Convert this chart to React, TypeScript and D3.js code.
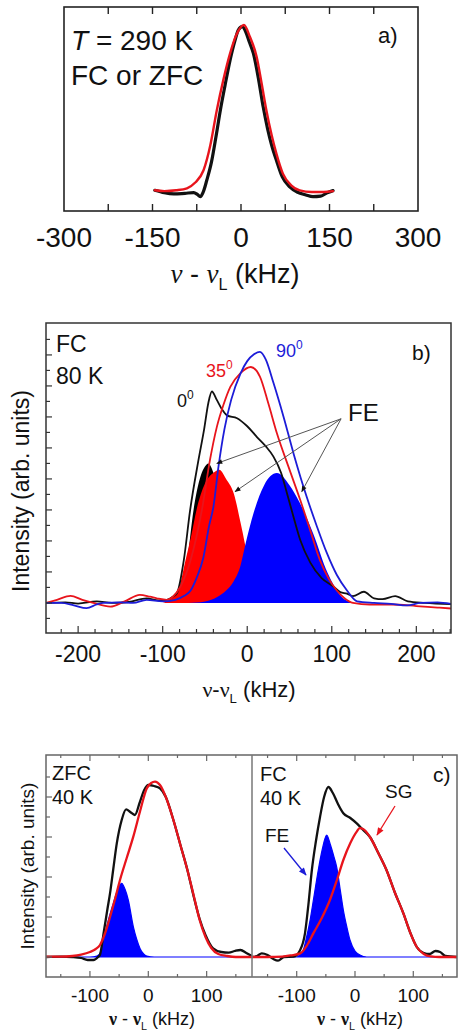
import React from "react";
import * as d3 from "d3";

type Pt = [number, number];

// ---------- Panel a data (kHz, intensity 0..100) ----------
const aTickLabels = [-300, -150, 0, 150, 300];
const aTickMarks = [-225, -150, -75, 0, 75, 150, 225];
const aBlack: Pt[] = [
  [-146, 1.0], [-130, -0.5], [-114, -1.2], [-95, -0.8], [-80, -0.4], [-74, -1.5], [-69, -2.8], [-64, 0],
  [-58, 7], [-50, 18], [-42, 34], [-35, 49], [-27, 64], [-18.5, 79], [-10, 91], [-4.5, 97], [2, 99],
  [8, 96], [14, 90], [21, 83], [30, 67], [37.6, 51], [45, 38], [52, 28], [60, 19], [70, 9], [82.6, 3],
  [95, 0], [110, -1.8], [122, -2.8], [135, -2.5], [146, -0.5], [156, 0.8],
];
const aRed: Pt[] = [
  [-146, 1.0], [-130, 0.5], [-110, 1.0], [-91.6, 2.2], [-78, 5.5], [-63.5, 13], [-52, 28], [-41, 49],
  [-30, 67], [-18.5, 83], [-8, 94], [5, 100], [15, 93], [26.5, 81], [35, 65], [43, 49], [52, 34],
  [60, 23], [71, 11], [85, 4], [99.5, 1], [120, 0], [140, 0], [156, 0.5],
];

// ---------- Panel b data ----------
const bTickLabels = [-200, -100, 0, 100, 200];
const bTickMarks = [-220, -200, -180, -160, -140, -120, -100, -80, -60, -40, -20, 0, 20, 40, 60, 80, 100, 120, 140, 160, 180, 200, 220, 240];
const bYTicks = [-0.5, 0, 0.5, 1, 1.5, 2, 2.5, 3, 3.5, 4, 4.5, 5, 5.5, 6, 6.5, 7, 7.5, 8, 8.5];
const bBlack: Pt[] = [
  [-238, 0.0], [-215, 0.02], [-200, -0.02], [-178, 0.05], [-160, 0.0], [-140, 0.03], [-119, 0.15],
  [-105, 0.08], [-95, 0.1], [-88, 0.2], [-83, 0.32], [-75, 1.38], [-67.5, 3.0], [-57.6, 4.62],
  [-51, 5.6], [-46, 6.45], [-41.8, 6.82], [-36, 6.55], [-30, 6.25], [-24, 6.05], [-12, 5.96],
  [0, 5.7], [11.5, 5.35], [22, 5.05], [31, 4.72], [40, 4.2], [47, 3.54], [55, 2.75], [62.7, 2.03],
  [74.6, 1.3], [88, 0.8], [102, 0.53], [110, 0.35], [118, 0.3], [125, 0.22], [138, 0.36], [150, 0.15],
  [160, 0.12], [175, 0.22], [190, 0.05], [210, 0.0], [241, -0.04],
];
const bRed: Pt[] = [
  [-238, 0.0], [-225, 0.1], [-209, 0.23], [-195, 0.1], [-182, 0.0], [-162, -0.12], [-145, 0.05],
  [-127, 0.26], [-115, 0.2], [-107, 0.15], [-95, 0.1], [-88, 0.2], [-79, 0.53], [-67, 1.38],
  [-53.6, 3.0], [-44, 4.62], [-36, 5.67], [-28, 6.4], [-20, 6.97], [-8, 7.41], [4.3, 7.61],
  [15, 7.3], [25, 6.43], [35, 5.48], [50, 4.3], [62.7, 3.32], [75, 2.3], [86, 1.38], [96, 0.8],
  [106, 0.4], [115, 0.15], [125, 0.0], [145, -0.05], [171, -0.05], [200, -0.1], [225, -0.15], [241, -0.18],
];
const bBlue: Pt[] = [
  [-238, 0.0], [-220, 0.0], [-205, -0.08], [-190, -0.17], [-178, -0.05], [-170, 0.0], [-150, 0.02],
  [-135, 0.0], [-119, 0.1], [-100, 0.05], [-85, 0.1], [-75, 0.22], [-67, 0.4], [-60, 0.8], [-52, 1.45],
  [-45, 2.5], [-40, 3.1], [-34, 4.4], [-27, 5.6], [-19, 6.55], [-8, 7.4], [0, 7.8], [8, 8.02],
  [15, 8.1], [22, 7.85], [31, 7.1], [43, 6.0], [55, 4.8], [70.6, 3.4], [82, 2.5], [94, 1.62],
  [106, 0.9], [118, 0.4], [130, 0.05], [150, 0.0], [170, -0.03], [189, -0.08], [205, 0.0], [225, 0.02], [241, -0.03],
];
const bFillBlack: Pt[] = [
  [-85, 0], [-80, 0.3], [-71, 1.38], [-63.5, 3.0], [-55, 4.1], [-50, 4.4], [-46, 4.5], [-40, 4.2],
  [-30, 3.0], [-20, 1.5], [-10, 0.5], [0, 0.1], [10, 0],
];
const bFillRed: Pt[] = [
  [-100, 0], [-90, 0.15], [-80, 0.55], [-73, 1.38], [-66, 2.2], [-60, 3.0], [-50, 3.85], [-40, 4.2],
  [-33, 4.3], [-25, 4.0], [-16, 3.54], [-8, 2.6], [-2.4, 1.86], [2, 1.2], [7.5, 0.65], [15, 0.25], [25, 0.05], [35, 0],
];
const bFillBlue: Pt[] = [
  [-70, 0], [-50, 0.05], [-35, 0.2], [-25, 0.4], [-16, 0.7], [-8, 1.2], [-2.4, 1.86], [7.5, 2.9],
  [20, 3.8], [35, 4.19], [50, 3.8], [62, 3.24], [78, 2.24], [95, 0.97], [110, 0.25], [125, 0],
];

// ---------- Panel c data ----------
const cTickLabels = [-100, 0, 100];
const cTickMarks = [-150, -100, -50, 0, 50, 100, 150];
const cYTicks = [0, 1, 2, 3, 4, 5, 6, 7, 8, 9];
const cZfcBlack: Pt[] = [
  [-175.3, 0], [-150, 0.02], [-130, 0.0], [-115, -0.05], [-104, -0.15], [-94, -0.15], [-86, 0.0],
  [-83, 0.1], [-76, 1.3], [-70, 2.4], [-65.6, 3.18], [-60, 4.4], [-54, 5.68], [-45.6, 6.85],
  [-38, 7.38], [-31, 7.25], [-23, 7.1], [-15, 7.7], [-7, 8.35], [0, 8.6], [10, 8.55], [20, 8.43],
  [30, 8.0], [43, 6.85], [55, 5.6], [67, 4.35], [78, 3.0], [88, 1.9], [98, 1.1], [111, 0.43],
  [125, 0.25], [138, 0.22], [148, 0.3], [158, 0.35], [168, 0.2], [177.7, 0.05],
];
const cZfcRed: Pt[] = [
  [-175.3, 0.02], [-150, 0.02], [-130, 0.05], [-115, 0.12], [-100, 0.25], [-90, 0.4], [-82.8, 0.6],
  [-74, 1.2], [-65.6, 2.0], [-57, 2.9], [-48.5, 3.85], [-37, 4.95], [-25.7, 6.02], [-14, 7.3],
  [-2.7, 8.43], [5, 8.7], [11.5, 8.77], [20, 8.6], [30, 8.0], [43, 6.85], [55, 5.6], [67, 4.35],
  [78, 3.05], [88, 1.85], [98, 1.0], [108, 0.45], [120, 0.15], [135, 0.05], [150, 0.0], [177.7, 0.0],
];
const cZfcFE: Pt[] = [
  [-175.3, 0], [-100, 0], [-88, 0.05], [-80, 0.35], [-71.3, 1.52], [-60, 2.68], [-52, 3.4],
  [-45.6, 3.68], [-40, 3.4], [-34.3, 2.85], [-25.7, 1.52], [-20, 0.9], [-14.2, 0.43], [-8, 0.15],
  [-2.7, 0.05], [10, 0], [177.7, 0],
];
const cFcBlack: Pt[] = [
  [-176.7, 0.0], [-168, 0.05], [-160, 0.18], [-150, 0.1], [-140, -0.1], [-132, -0.18], [-122, 0.0],
  [-105, 0.02], [-95, 0.3], [-85.8, 1.18], [-80, 2.6], [-74, 4.35], [-67, 5.8], [-60, 7.0], [-53, 8.0],
  [-45.7, 8.5], [-38, 8.2], [-30, 7.7], [-20, 7.19], [-8, 6.95], [3, 6.68], [14, 6.35], [25.7, 6.0],
  [40, 5.2], [54, 4.35], [68, 3.25], [83, 2.18], [95, 1.2], [106, 0.5], [118, 0.2], [128, 0.15],
  [138, 0.3], [146, 0.25], [155, 0.05], [175, 0.0],
];
const cFcSG: Pt[] = [
  [-176.7, 0.0], [-150, 0.0], [-125, 0.02], [-110, 0.08], [-94, 0.18], [-82, 0.6], [-71.5, 1.18],
  [-57, 1.95], [-43, 2.85], [-31, 3.85], [-20, 4.85], [-8, 5.7], [3, 6.27], [8, 6.44], [14, 6.4],
  [25.7, 6.0], [40, 5.2], [54, 4.35], [68, 3.25], [83, 2.18], [95, 1.2], [106, 0.5], [118, 0.15],
  [130, 0.03], [145, 0.0], [175, 0.0],
];
const cFcFE: Pt[] = [
  [-176.7, 0], [-100, 0], [-95, 0.1], [-88.6, 0.35], [-83, 1.0], [-77, 1.85], [-70, 3.1], [-63, 4.35],
  [-56, 5.4], [-48.6, 6.1], [-42, 5.6], [-36, 5.0], [-31.4, 4.5], [-25, 3.3], [-20, 2.35], [-14, 1.5],
  [-8.6, 0.85], [0, 0.3], [8.6, 0.1], [20, 0], [175, 0],
];

const SANS = "'Liberation Sans', Arial, sans-serif";
const SERIF = "'Liberation Serif', 'DejaVu Serif', serif";
const K = "#111";
const RED = "#e8141c";
const BLUE = "#1c1cd8";
const FRED = "#ff0000";
const FBLUE = "#0000ff";

type Scale = d3.ScaleLinear<number, number>;
const mkLine = (x: Scale, y: Scale) =>
  d3.line<Pt>().x((d) => x(d[0])).y((d) => y(d[1])).curve(d3.curveMonotoneX);
const mkArea = (x: Scale, y: Scale) =>
  d3.area<Pt>().x((d) => x(d[0])).y0(y(0)).y1((d) => y(d[1])).curve(d3.curveMonotoneX);

export default function App() {
  // scales
  const xA = d3.scaleLinear().domain([-300, 300]).range([64, 418]);
  const yA = d3.scaleLinear().domain([-11.4, 110.8]).range([211, 7]);
  const xB = d3.scaleLinear().domain([-238, 241]).range([46, 451]);
  const yB = d3.scaleLinear().domain([-0.97, 9.03]).range([633, 323]);
  const xC1 = d3.scaleLinear().domain([-175.3, 177.7]).range([46, 252]);
  const xC2 = d3.scaleLinear().domain([-176.7, 175]).range([252, 457]);
  const yC = d3.scaleLinear().domain([-1.0, 10.1]).range([977, 755]);

  const lA = mkLine(xA, yA);
  const lB = mkLine(xB, yB);
  const aB = mkArea(xB, yB);
  const lC1 = mkLine(xC1, yC);
  const aC1 = mkArea(xC1, yC);
  const lC2 = mkLine(xC2, yC);
  const aC2 = mkArea(xC2, yC);

  const [ax0, ax1] = xA.range();
  const [ay0, ay1] = [yA.range()[1], yA.range()[0]];
  const [bx0, bx1] = xB.range();
  const [by0, by1] = [yB.range()[1], yB.range()[0]];
  const [cy0, cy1] = [yC.range()[1], yC.range()[0]];

  const nuLabel = (x: number, y: number, fs: number, style: "italic" | "bold" | "normal", spaced: boolean) => (
    <text x={x} y={y} fontSize={fs} fontFamily={SANS} fill={K} textAnchor="middle">
      <tspan fontFamily={SERIF} fontStyle={style === "italic" ? "italic" : "normal"} fontWeight={style === "bold" ? "bold" : "normal"}>ν</tspan>
      <tspan>{spaced ? " - " : "-"}</tspan>
      <tspan fontFamily={SERIF} fontStyle={style === "italic" ? "italic" : "normal"} fontWeight={style === "bold" ? "bold" : "normal"}>ν</tspan>
      <tspan fontSize={fs * 0.6} dy={fs * 0.25}>L</tspan>
      <tspan dy={-fs * 0.25}> (kHz)</tspan>
    </text>
  );

  return (
    <svg width={458} height={1032} style={{ position: "absolute", left: 0, top: 0, background: "#fff" }} fontFamily={SANS}>
      <defs>
        <clipPath id="clipA"><rect x={ax0} y={ay0} width={ax1 - ax0} height={ay1 - ay0} /></clipPath>
        <clipPath id="clipB"><rect x={bx0} y={by0} width={bx1 - bx0} height={by1 - by0} /></clipPath>
        <clipPath id="clipC1"><rect x={xC1.range()[0]} y={cy0} width={xC1.range()[1] - xC1.range()[0]} height={cy1 - cy0} /></clipPath>
        <clipPath id="clipC2"><rect x={xC2.range()[0]} y={cy0} width={xC2.range()[1] - xC2.range()[0]} height={cy1 - cy0} /></clipPath>
        <marker id="ahK" viewBox="0 0 10 10" refX="9" refY="5" markerWidth="7" markerHeight="6" markerUnits="userSpaceOnUse" orient="auto">
          <path d="M0,1 L10,5 L0,9 z" fill="#111" />
        </marker>
        <marker id="ahR" viewBox="0 0 10 10" refX="9" refY="5" markerWidth="9" markerHeight="8" markerUnits="userSpaceOnUse" orient="auto">
          <path d="M0,1 L10,5 L0,9 z" fill={RED} />
        </marker>
        <marker id="ahB" viewBox="0 0 10 10" refX="9" refY="5" markerWidth="9" markerHeight="8" markerUnits="userSpaceOnUse" orient="auto">
          <path d="M0,1 L10,5 L0,9 z" fill={BLUE} />
        </marker>
      </defs>

      {/* ================= Panel a ================= */}
      <g>
        <g clipPath="url(#clipA)" fill="none" strokeLinejoin="round" strokeLinecap="round">
          <path d={lA(aBlack) || ""} stroke={K} strokeWidth={3.2} />
          <path d={lA(aRed) || ""} stroke={RED} strokeWidth={2.4} />
        </g>
        <rect x={ax0} y={ay0} width={ax1 - ax0} height={ay1 - ay0} fill="none" stroke="#222" strokeWidth={1.6} />
        {aTickMarks.map((t) => (
          <g key={t} stroke="#222" strokeWidth={1.4}>
            <line x1={xA(t)} x2={xA(t)} y1={ay0} y2={ay0 + 7} />
            <line x1={xA(t)} x2={xA(t)} y1={ay1} y2={ay1 - 7} />
          </g>
        ))}
        {aTickLabels.map((t) => (
          <text key={t} x={xA(t)} y={247} fontSize={28} textAnchor="middle" fill={K}>{t}</text>
        ))}
        {nuLabel(235, 283, 27, "italic", true)}
        <text x={71} y={50} fontSize={28} fill={K}>
          <tspan fontStyle="italic">T</tspan> = 290 K
        </text>
        <text x={71} y={85} fontSize={28} fill={K}>FC or ZFC</text>
        <text x={378} y={43} fontSize={22} fill={K}>a)</text>
      </g>

      {/* ================= Panel b ================= */}
      <g>
        <g clipPath="url(#clipB)">
          <path d={aB(bFillBlack) || ""} fill="#000" />
          <path d={aB(bFillRed) || ""} fill={FRED} />
          <path d={aB(bFillBlue) || ""} fill={FBLUE} />
          <g fill="none" strokeLinejoin="round" strokeWidth={1.8}>
            <path d={lB(bBlack) || ""} stroke={K} />
            <path d={lB(bRed) || ""} stroke={RED} />
            <path d={lB(bBlue) || ""} stroke={BLUE} />
          </g>
        </g>
        <rect x={bx0} y={by0} width={bx1 - bx0} height={by1 - by0} fill="none" stroke="#333" strokeWidth={1.5} />
        {bTickMarks.map((t) => (
          <line key={t} x1={xB(t)} x2={xB(t)} y1={by1} y2={by1 - (t % 100 === 0 ? 7 : 4)} stroke="#333" strokeWidth={1.2} />
        ))}
        {bYTicks.map((t) => (
          <line key={t} x1={bx0} x2={bx0 + (Number.isInteger(t) ? 6 : 4)} y1={yB(t)} y2={yB(t)} stroke="#333" strokeWidth={1.2} />
        ))}
        {bTickLabels.map((t) => (
          <text key={t} x={xB(t)} y={662} fontSize={23} textAnchor="middle" fill={K}>{t}</text>
        ))}
        {nuLabel(249, 697, 22, "normal", false)}
        <text transform="translate(29,491) rotate(-90)" fontSize={23} textAnchor="middle" fill={K}>Intensity (arb. units)</text>
        <text x={56} y={352} fontSize={23} fill={K}>FC</text>
        <text x={56} y={384} fontSize={23} fill={K}>80 K</text>
        <text x={412} y={360} fontSize={21} fill={K}>b)</text>
        <text x={177} y={407} fontSize={18} fill={K}>0<tspan fontSize={12} dy={-8}>0</tspan></text>
        <text x={206} y={377} fontSize={18} fill={RED}>35<tspan fontSize={12} dy={-8}>0</tspan></text>
        <text x={276} y={357} fontSize={18} fill={BLUE}>90<tspan fontSize={12} dy={-8}>0</tspan></text>
        <text x={348} y={421} fontSize={24} fill={K}>FE</text>
        <g stroke="#555" strokeWidth={1}>
          <line x1={xB(111)} y1={yB(5.94)} x2={xB(-36)} y2={yB(4.5)} markerEnd="url(#ahK)" />
          <line x1={xB(111)} y1={yB(5.94)} x2={xB(-14.4)} y2={yB(3.59)} markerEnd="url(#ahK)" />
          <line x1={xB(111)} y1={yB(5.94)} x2={xB(64.5)} y2={yB(3.59)} markerEnd="url(#ahK)" />
        </g>
      </g>

      {/* ================= Panel c ================= */}
      <g>
        <g clipPath="url(#clipC1)">
          <path d={aC1(cZfcFE) || ""} fill={FBLUE} stroke={FBLUE} strokeWidth={1.2} />
          <g fill="none" strokeLinejoin="round" strokeWidth={2.3}>
            <path d={lC1(cZfcBlack) || ""} stroke={K} />
            <path d={lC1(cZfcRed) || ""} stroke={RED} />
          </g>
        </g>
        <g clipPath="url(#clipC2)">
          <path d={aC2(cFcFE) || ""} fill={FBLUE} stroke={FBLUE} strokeWidth={1.2} />
          <g fill="none" strokeLinejoin="round" strokeWidth={2.3}>
            <path d={lC2(cFcBlack) || ""} stroke={K} />
            <path d={lC2(cFcSG) || ""} stroke={RED} />
          </g>
        </g>
        <rect x={xC1.range()[0]} y={cy0} width={xC2.range()[1] - xC1.range()[0]} height={cy1 - cy0} fill="none" stroke="#666" strokeWidth={1.5} />
        <line x1={xC2.range()[0]} x2={xC2.range()[0]} y1={cy0} y2={cy1} stroke="#777" strokeWidth={1.5} />
        {[xC1, xC2].map((xs, i) => (
          <g key={i}>
            {cTickMarks.map((t) => (
              <g key={t} stroke="#666" strokeWidth={1.2}>
                <line x1={xs(t)} x2={xs(t)} y1={cy0} y2={cy0 + (t % 100 === 0 ? 6 : 3)} />
                <line x1={xs(t)} x2={xs(t)} y1={cy1} y2={cy1 - (t % 100 === 0 ? 6 : 3)} />
              </g>
            ))}
            {cTickLabels.map((t) => (
              <text key={t} x={xs(t)} y={1002} fontSize={19} textAnchor="middle" fill={K}>{t}</text>
            ))}
          </g>
        ))}
        {cYTicks.map((t) => (
          <line key={t} x1={xC1.range()[0]} x2={xC1.range()[0] + (t % 2 === 0 ? 6 : 4)} y1={yC(t)} y2={yC(t)} stroke="#666" strokeWidth={1.2} />
        ))}
        {nuLabel(152, 1025, 18, "bold", true)}
        {nuLabel(360, 1025, 18, "bold", true)}
        <text transform="translate(34,866) rotate(-90)" fontSize={19} textAnchor="middle" fill={K}>Intensity (arb. units)</text>
        <text x={52} y={780} fontSize={20} fill={K}>ZFC</text>
        <text x={52} y={804} fontSize={20} fill={K}>40 K</text>
        <text x={260} y={781} fontSize={20} fill={K}>FC</text>
        <text x={260} y={805} fontSize={20} fill={K}>40 K</text>
        <text x={433} y={782} fontSize={21} fill={K}>c)</text>
        <text x={385} y={798} fontSize={19} fill={K}>SG</text>
        <text x={265} y={842} fontSize={19} fill={K}>FE</text>
        <line x1={395} y1={806} x2={377} y2={835} stroke={RED} strokeWidth={1.3} markerEnd="url(#ahR)" />
        <line x1={284} y1={848} x2={306} y2={875} stroke={BLUE} strokeWidth={1.3} markerEnd="url(#ahB)" />
      </g>
    </svg>
  );
}
